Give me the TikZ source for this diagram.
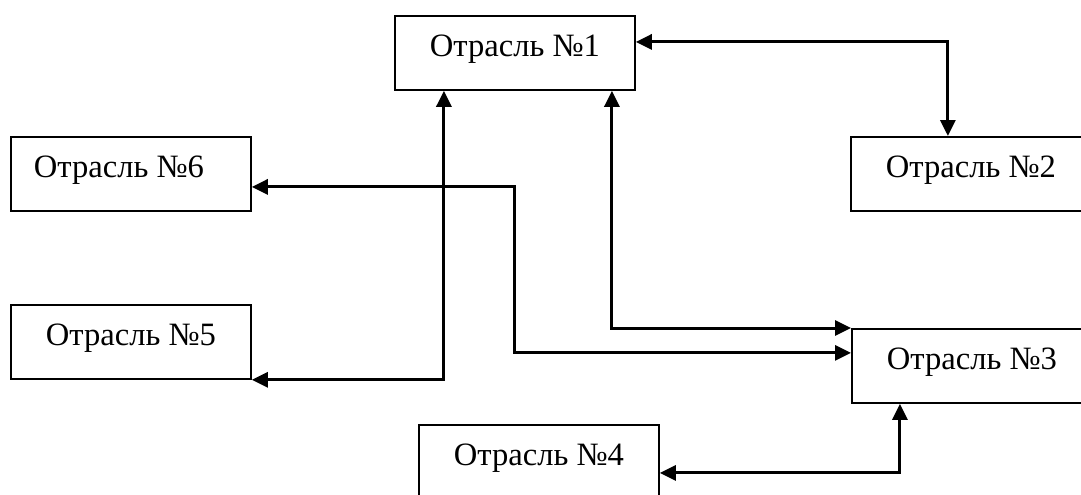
\documentclass[tikz,border=0pt]{standalone}
\usepackage{fontspec}
\setmainfont{Liberation Serif}
\usetikzlibrary{arrows.meta}

\begin{document}
\begin{tikzpicture}[x=0.5pt, y=-0.5pt,
    branch/.style={draw, line width=0.9pt, anchor=north west, inner xsep=0pt, inner ysep=0pt,
      minimum width=120pt, text height=20.5pt, text depth=16.5pt,
      font=\fontsize{16.3}{19}\selectfont},
    branch left/.style={branch, inner xsep=11.5pt},
    link/.style={line width=1.5pt, {Triangle[length=8pt, width=7.5pt]}-{Triangle[length=8pt, width=7.5pt]}}]
  \useasboundingbox (0, 0) rectangle (1081, 494);

  \node[branch] (b1) at (394, 15) {Отрасль №1};
  \node[branch] (b2) at (850, 136) {Отрасль №2};
  \node[branch] (b3) at (851, 328) {Отрасль №3};
  \node[branch] (b4) at (418, 424) {Отрасль №4};
  \node[branch] (b5) at (10, 304) {Отрасль №5};
  \node[branch left] (b6) at (10, 136) {\makebox[97pt][l]{Отрасль №6}};

  \coordinate (c3) at ([yshift=6.5pt]b3.west);

  \draw[link] ([yshift=5.5pt]b1.east) -| ([xshift=-11.5pt]b2.north);
  \draw[link] (b5.south east) -| ([xshift=-35.5pt]b1.south);
  \draw[link] ([yshift=-6.5pt]b6.east) -| (c3 -| b1.south) -- (c3);
  \draw[link] ([xshift=48.5pt]b1.south) |- (b3.north west);
  \draw[link] ([yshift=-5.5pt]b4.east) -| ([xshift=-36pt]b3.south);
\end{tikzpicture}
\end{document}
